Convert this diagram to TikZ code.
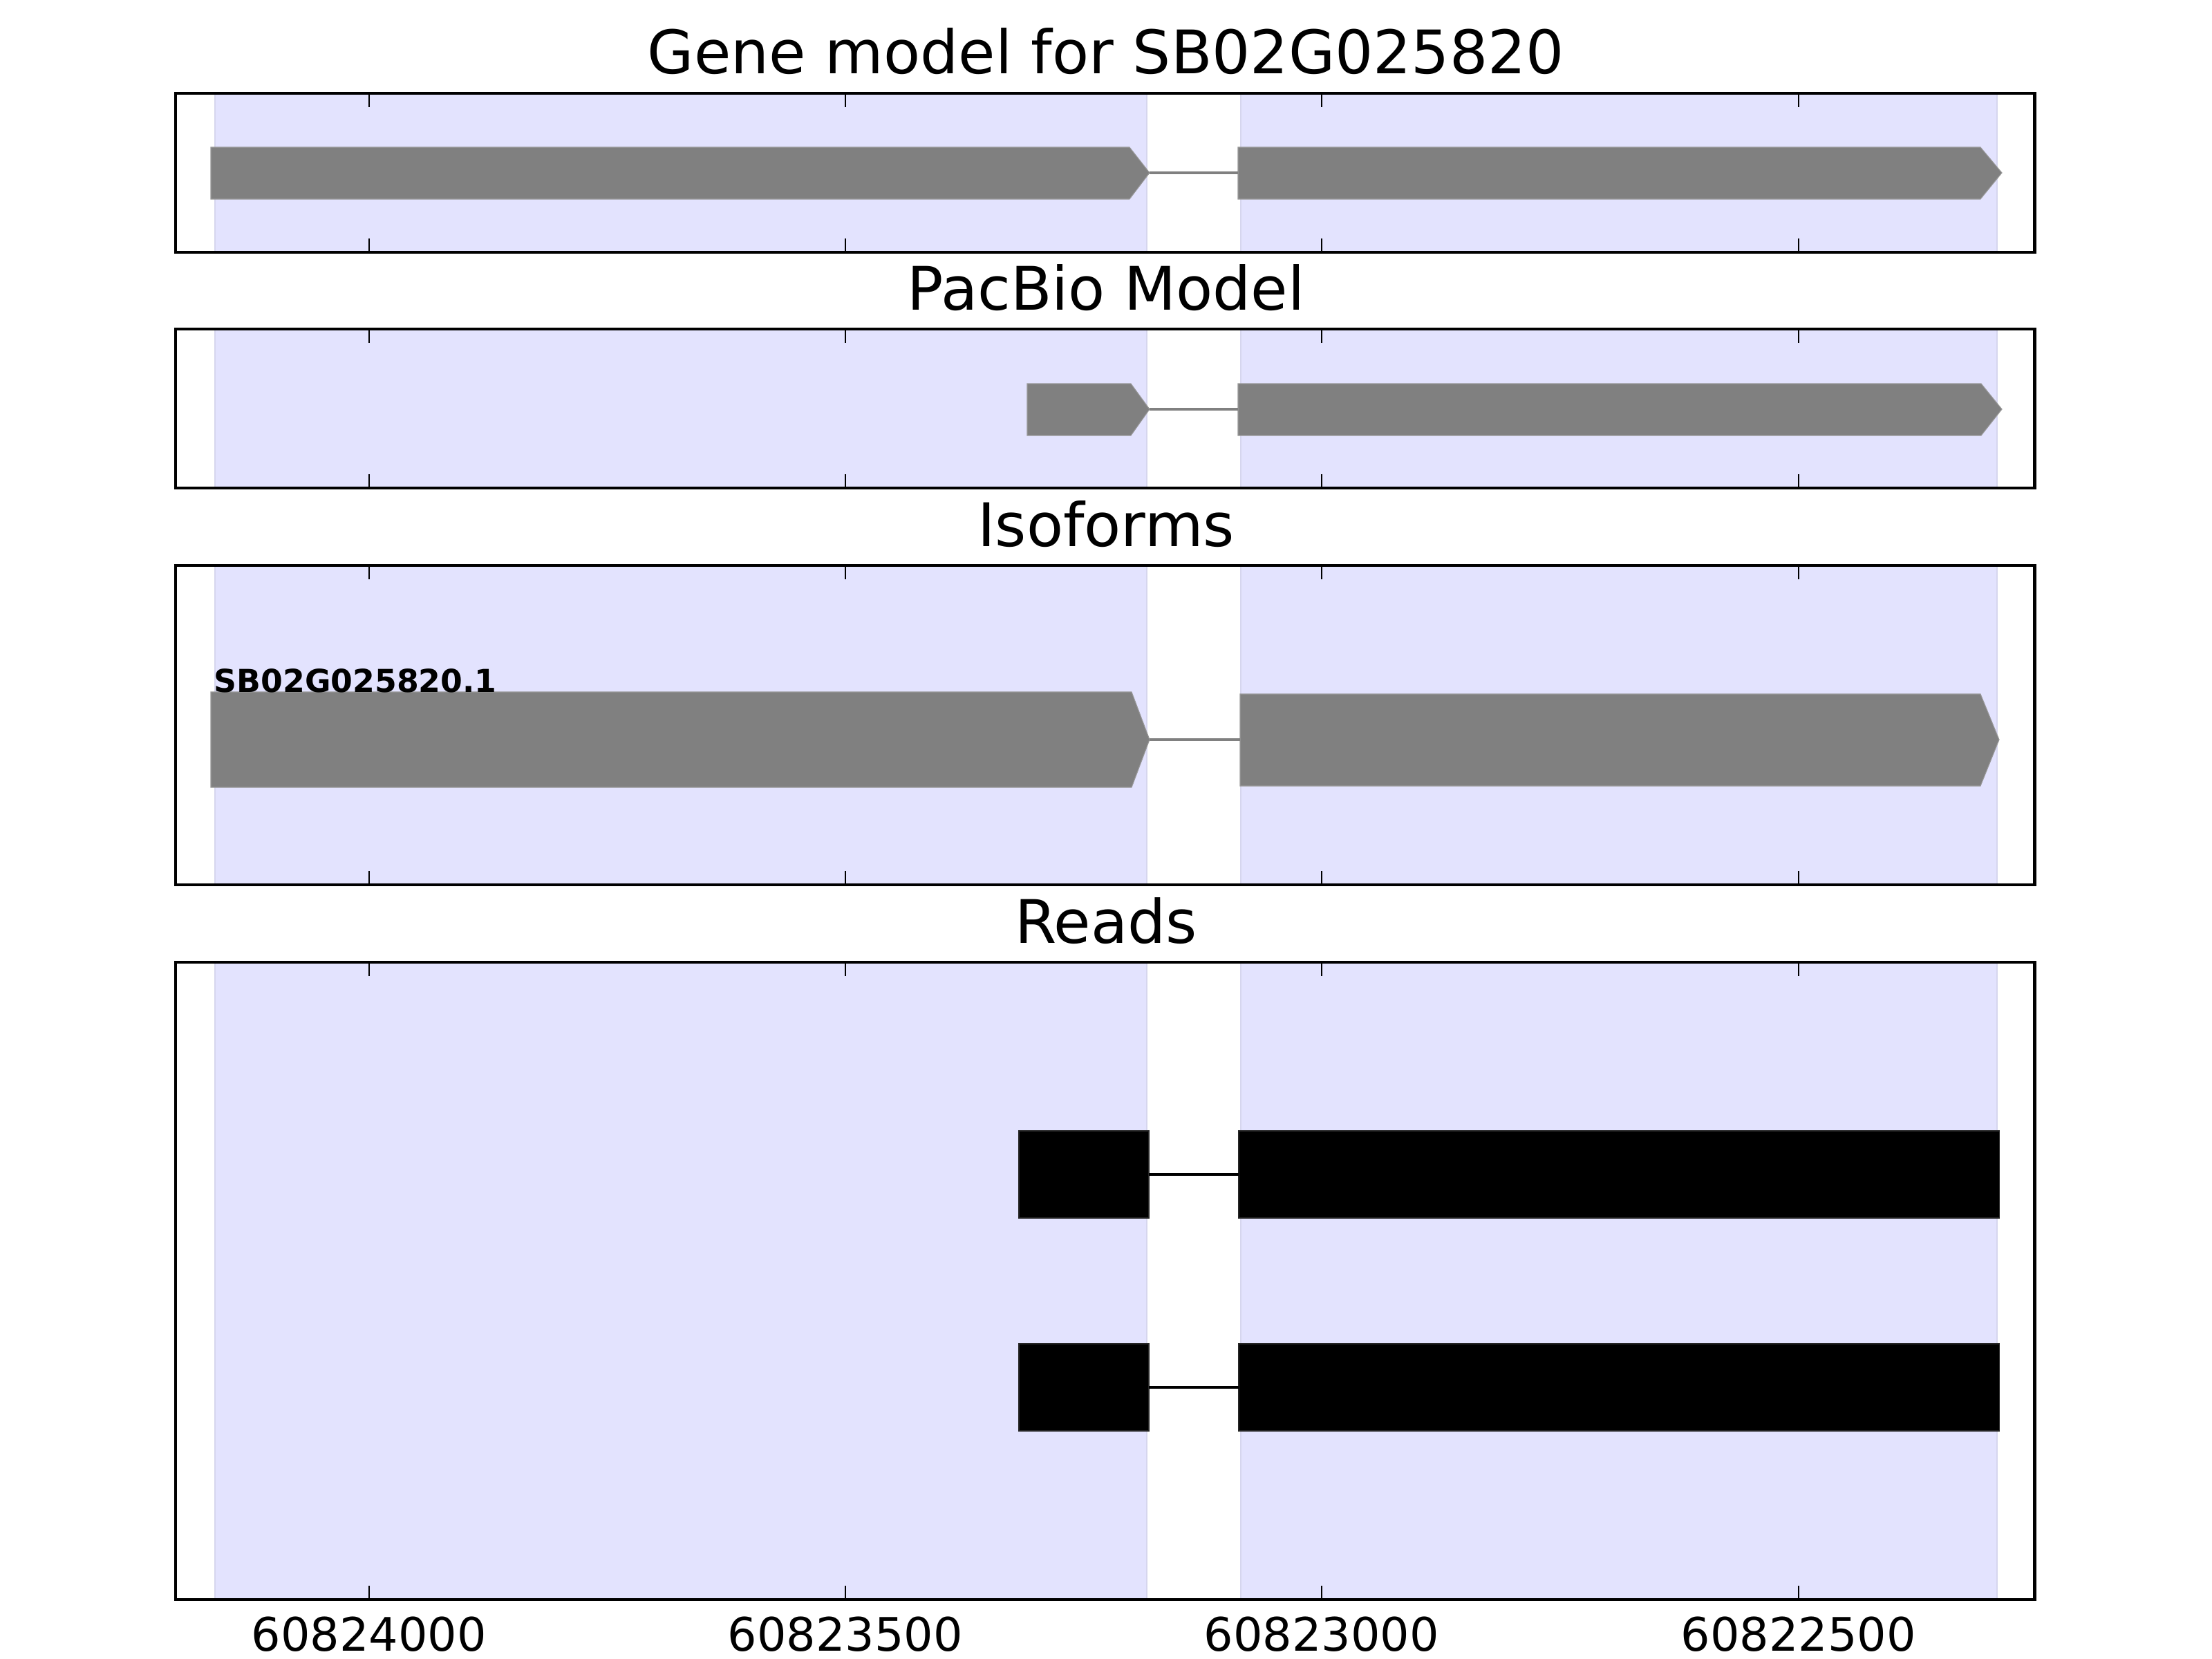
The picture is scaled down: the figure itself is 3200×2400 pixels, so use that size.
\documentclass[tikz,border=0pt]{standalone}
\usepackage{fontspec}
\setmainfont{DejaVu Sans}
\usepackage{tikz}
\usetikzlibrary{positioning}
\definecolor{spanblue}{HTML}{E3E3FE}
\definecolor{spanedge}{HTML}{D6D6EE}
\definecolor{exongrey}{HTML}{808080}

\begin{document}
\begin{tikzpicture}[x=0.01cm,y=-0.01cm,
  frame/.style={draw=black,line width=1.4pt},
  span/.style={fill=spanblue,draw=spanedge,line width=0.6pt},
  tickmark/.style={draw=black,line width=0.7pt},
  exon/.style={fill=exongrey,draw=exongrey!80!white,line width=0.3pt},
  intron/.style={draw=exongrey,line width=1.4pt},
  read/.style={fill=black,draw=black!85!white,line width=0.3pt},
  readline/.style={draw=black,line width=1.4pt},
  ttl/.style={anchor=base,inner sep=0pt,font=\fontsize{24.7}{28}\selectfont},
  ticklab/.style={anchor=base,inner sep=0pt,font=\fontsize{19}{22}\selectfont}]
\useasboundingbox (0,0) rectangle (3200,2400);
% panels: shaded exon spans, ticks, frame, title
\foreach \top/\bot/\name/\ttext in {135/365/gene/Gene model for SB02G025820,
    476/706/pacbio/PacBio Model, 818/1280/iso/Isoforms, 1392/2314/reads/Reads}{
  \draw[span] (311,\top) rectangle (1659,\bot);
  \draw[span] (1795,\top) rectangle (2889,\bot);
  \foreach \x in {534,1223,1912,2602}
    \draw[tickmark] (\x,\top) -- ++(0,20) (\x,\bot) -- ++(0,-20);
  \draw[frame] (254,\top) rectangle (2943,\bot);
  \node[ttl] (t-\name) at (1600,\top-28) {\ttext};
}
% gene model
\draw[exon] (305,213) -- (1634,213) -- (1663,250) coordinate (ga1) -- (1634,288) -- (305,288) -- cycle;
\draw[exon] (1791,213) -- (2865,213) -- (2896,250) -- (2865,288) -- (1791,288) -- cycle;
\coordinate (ga2) at (1791,250);
\draw[intron] (ga1) -- (ga2);
% pacbio model
\draw[exon] (1486,555) -- (1636,555) -- (1663,592) coordinate (pb1) -- (1636,630) -- (1486,630) -- cycle;
\draw[exon] (1791,555) -- (2866,555) -- (2896,592) -- (2866,630) -- (1791,630) -- cycle;
\coordinate (pb2) at (1791,592);
\draw[intron] (pb1) -- (pb2);
% isoforms
\draw[exon] (305,1001) -- (1637,1001) -- (1663,1070) coordinate (is1) -- (1637,1139) -- (305,1139) -- cycle;
\draw[exon] (1794,1004) -- (2865,1004) -- (2892,1070) -- (2865,1137) -- (1794,1137) -- cycle;
\coordinate (is2) at (1794,1070);
\draw[intron] (is1) -- (is2);
\node[anchor=base west,inner sep=0pt,font=\bfseries\fontsize{13}{15}\selectfont] (isolab) at (309,1001) {SB02G025820.1};
% reads
\foreach \y/\r in {1699/ra,2007/rb}{
  \draw[read] (1474,\y-63) rectangle (1662,\y+63);
  \draw[read] (1792,\y-63) rectangle (2892,\y+63);
  \coordinate (\r1) at (1662,\y);
  \coordinate (\r2) at (1792,\y);
  \draw[readline] (\r1) -- (\r2);
}
% axis labels
\foreach \x/\lab in {534/60824000,1223/60823500,1912/60823000,2602/60822500}
  \node[ticklab] (lab\lab) at (\x,2388) {\lab};
\end{tikzpicture}
\end{document}
